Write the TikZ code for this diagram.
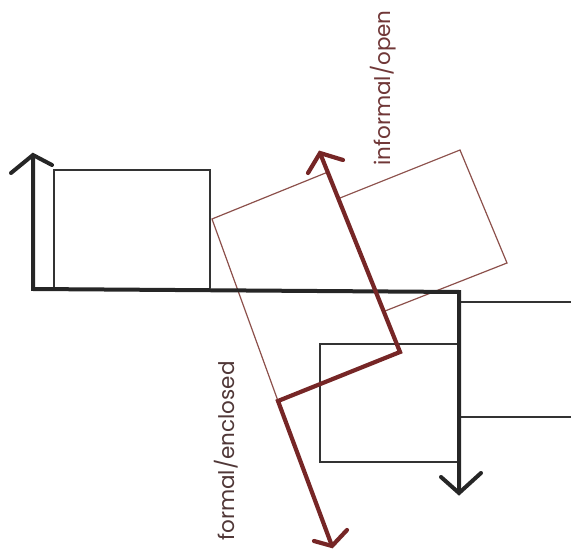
\documentclass[tikz,border=0pt]{standalone}
\usepackage{fontspec}
\setmainfont{Poppins}
\definecolor{arrowred}{RGB}{118,38,38}
\definecolor{thinred}{RGB}{140,80,75}
\definecolor{txtred}{RGB}{112,55,55}
\definecolor{txtdark}{RGB}{80,55,55}
\begin{document}
\begin{tikzpicture}[x=1pt,y=-1pt,
  blk/.style={draw=black!85,line width=4pt,line join=miter},
  redarrow/.style={draw=arrowred,line width=4.2pt,line join=miter},
  thinblk/.style={draw=black!80,line width=1.3pt},
  thinr/.style={draw=thinred,line width=1.2pt},
  lab/.style={font=\fontsize{21.5}{22}\selectfont,rotate=90,inner sep=0pt}]
\useasboundingbox (0,0) rectangle (571,556);
% black rectangles
\draw[thinblk] (54,288) -- (54,170) -- (210,170) -- (210,288);
\draw[thinblk] (460,302) -- (571,302);
\draw[thinblk] (460,417) -- (571,417);
\draw[thinblk] (458,344) -- (320,344) -- (320,462) -- (458,462);
% red rectangles
\coordinate (r1a) at (212,219);
\coordinate (r1b) at (328,172);
\coordinate (r1d) at (278,401);
\coordinate (r2a) at (340,198);
\coordinate (r2b) at (460,150);
\coordinate (r2c) at (507,263);
\coordinate (r2d) at (385,311);
\draw[thinr] (r1b) -- (r1a) -- (r1d);
\draw[thinr] (r2a) -- (r2b) -- (r2c) -- (r2d);
% black L arrow
\coordinate (bt) at (33,155);
\coordinate (bc1) at (33,289);
\coordinate (bc2) at (459,292);
\coordinate (bb) at (459,493);
\draw[blk] (bt) -- (bc1) -- (bc2) -- (bb);
\draw[blk,line cap=round] (11,173) -- (bt) -- (52,165);
\draw[blk,line cap=round] (441,477) -- (bb) -- (481,473);
% red zigzag arrow
\coordinate (rt) at (320,153);
\coordinate (rz1) at (400,352);
\coordinate (rz2) at (278,401);
\coordinate (rb) at (332,546);
\draw[redarrow] (rt) -- (rz1) -- (rz2) -- (rb);
\draw[redarrow,line cap=round] (308,173) -- (rt) -- (343,160);
\draw[redarrow,line cap=round] (314,541) -- (rb) -- (347,530);
% labels
\node[lab,text=txtred] (io) at (383,88) {informal/open};
\node[lab,text=txtdark] (fe) at (226,451) {formal/enclosed};
\end{tikzpicture}
\end{document}
